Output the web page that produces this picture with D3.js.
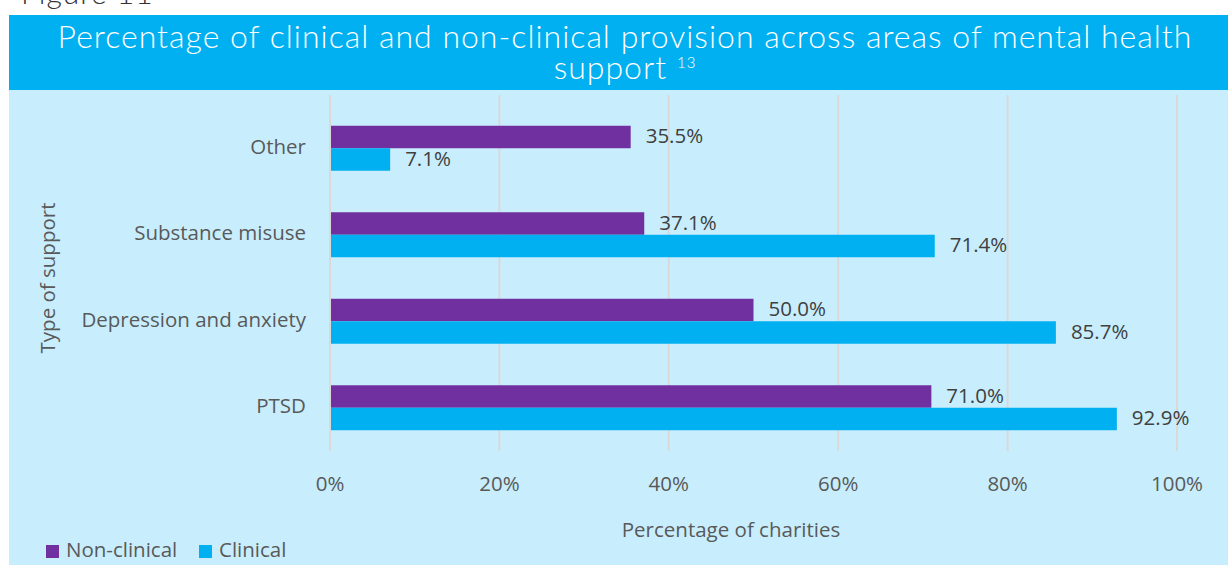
<!DOCTYPE html>
<html>
<head>
<meta charset="utf-8">
<script src="https://cdn.jsdelivr.net/npm/d3@7"></script>
<style>
  body { margin: 0; background: #fff; }
  svg { display: block; }
</style>
</head>
<body>
<div id="chart"></div>
<script>
// data
const categories = ['Other', 'Substance misuse', 'Depression and anxiety', 'PTSD'];
const nonClinical = [35.5, 37.1, 50.0, 71.0];
const clinical = [7.1, 71.4, 85.7, 92.9];
const seriesNames = ['Non-clinical', 'Clinical'];
const xTicks = [0, 20, 40, 60, 80, 100];

const W = 1228, H = 565;
const colors = { 'Non-clinical': '#7030A0', 'Clinical': '#00B0F0' };
const textFont = '"Open Sans", "Liberation Sans", sans-serif';
const fs = 20.5;

const svg = d3.select('#chart').append('svg')
  .attr('width', W)
  .attr('height', H);

// "Figure 11" caption, cut by the top edge
svg.append('text')
  .attr('x', 21)
  .attr('y', 4)
  .attr('font-family', 'Lato, sans-serif')
  .attr('font-weight', 300)
  .attr('font-size', 30)
  .attr('letter-spacing', 1)
  .attr('fill', '#333')
  .text('Figure 11');

// title band + panel
svg.append('rect')
  .attr('x', 9).attr('y', 15)
  .attr('width', W - 9).attr('height', 75)
  .attr('fill', '#00B0F0');
svg.append('rect')
  .attr('x', 9).attr('y', 90)
  .attr('width', W - 9).attr('height', H - 90)
  .attr('fill', '#C8EEFD');

const title = svg.append('text')
  .attr('text-anchor', 'middle')
  .attr('font-family', 'Lato, sans-serif')
  .attr('font-weight', 300)
  .attr('font-size', 32)
  .attr('letter-spacing', 1)
  .attr('fill', '#fff');
title.append('tspan').attr('x', 625).attr('y', 48)
  .text('Percentage of clinical and non-clinical provision across areas of mental health');
const t2 = title.append('tspan').attr('x', 625).attr('y', 79);
t2.append('tspan').text('support ');
t2.append('tspan').attr('font-size', 15).attr('dy', -11).text('13');

// scales
const x = d3.scaleLinear().domain([0, 100]).range([330, 1177]);
const y = d3.scaleBand().domain(categories).range([105, 451]).paddingInner(0.48).paddingOuter(0.24);
const sub = d3.scaleBand().domain(seriesNames).range([0, y.bandwidth()]);

// gridlines
svg.append('g')
  .selectAll('line')
  .data(xTicks)
  .enter()
  .append('line')
  .attr('x1', d => x(d)).attr('x2', d => x(d))
  .attr('y1', 95).attr('y2', 451)
  .attr('stroke', '#D9D9D9')
  .attr('stroke-width', 2);

// tick labels
svg.append('g')
  .selectAll('text')
  .data(xTicks)
  .enter()
  .append('text')
  .attr('x', d => x(d))
  .attr('y', 491)
  .attr('text-anchor', 'middle')
  .attr('font-family', textFont)
  .attr('font-size', fs)
  .attr('fill', '#595959')
  .text(d => d + '%');

// bars
const rows = categories.map((c, i) => ({ cat: c, values: [
  { series: 'Non-clinical', value: nonClinical[i] },
  { series: 'Clinical', value: clinical[i] }
]}));

const groups = svg.append('g')
  .selectAll('g.row')
  .data(rows)
  .enter()
  .append('g')
  .attr('class', 'row')
  .attr('transform', d => `translate(0,${y(d.cat)})`);

const cells = groups.selectAll('g.cell')
  .data(d => d.values)
  .enter()
  .append('g')
  .attr('class', 'cell');

cells.append('rect')
  .attr('x', x(0) + 1)
  .attr('y', d => sub(d.series))
  .attr('width', d => x(d.value) - x(0) - 1)
  .attr('height', sub.bandwidth())
  .attr('fill', d => colors[d.series]);

cells.append('text')
  .attr('x', d => x(d.value) + 15)
  .attr('y', d => sub(d.series) + sub.bandwidth() / 2 + 1)
  .attr('dominant-baseline', 'middle')
  .attr('font-family', textFont)
  .attr('font-size', fs)
  .attr('fill', '#404040')
  .text(d => d.value.toFixed(1) + '%');

// category labels
svg.append('g')
  .selectAll('text')
  .data(categories)
  .enter()
  .append('text')
  .attr('x', 306)
  .attr('y', d => y(d) + y.bandwidth() / 2)
  .attr('dominant-baseline', 'middle')
  .attr('text-anchor', 'end')
  .attr('font-family', textFont)
  .attr('font-size', fs)
  .attr('fill', '#595959')
  .text(d => d);

// axis titles
svg.append('text')
  .attr('x', 731)
  .attr('y', 537)
  .attr('text-anchor', 'middle')
  .attr('font-family', textFont)
  .attr('font-size', fs)
  .attr('fill', '#595959')
  .text('Percentage of charities');

svg.append('text')
  .attr('transform', 'translate(55,278) rotate(-90)')
  .attr('text-anchor', 'middle')
  .attr('font-family', textFont)
  .attr('font-size', fs)
  .attr('fill', '#595959')
  .text('Type of support');

// legend
const legend = svg.append('g')
  .selectAll('g')
  .data(seriesNames)
  .enter()
  .append('g')
  .attr('transform', (d, i) => `translate(${i === 0 ? 46 : 199},545)`);
legend.append('rect')
  .attr('width', 13).attr('height', 13)
  .attr('fill', d => colors[d]);
legend.append('text')
  .attr('x', 20)
  .attr('y', 7)
  .attr('dominant-baseline', 'middle')
  .attr('font-family', textFont)
  .attr('font-size', fs)
  .attr('fill', '#595959')
  .text(d => d);
</script>
</body>
</html>
